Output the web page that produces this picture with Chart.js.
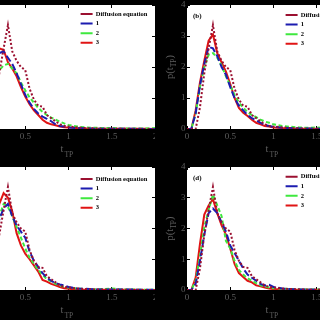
<!DOCTYPE html>
<html><head><meta charset="utf-8">
<script src="https://cdn.jsdelivr.net/npm/chart.js@4"></script>
<style>
html,body{margin:0;padding:0;background:#000;width:320px;height:320px;overflow:hidden;position:relative}
canvas{position:absolute}
</style></head><body>
<canvas id="pa" width="200" height="160" style="left:-45px;top:0px"></canvas>
<canvas id="pb" width="200" height="160" style="left:160px;top:0px"></canvas>
<canvas id="pc" width="200" height="160" style="left:-45px;top:160px"></canvas>
<canvas id="pd" width="200" height="160" style="left:160px;top:160px"></canvas>
<script>
// ---- data ----
const tValues = [0,0.05,0.1,0.15,0.2,0.25,0.3,0.35,0.4,0.45,0.5,0.55,0.6,0.65,0.7,0.75,0.8,0.85,0.9,0.95,1.0,1.1,1.2,1.3,1.4,1.5,1.6,1.7,1.8,1.9,2.0];
const seriesNames = ['Diffusion equation','1','2','3'];
const diffusion = [0,0,0,0.7,1.8,2.6,3.35,2.5,2.2,2.0,1.9,1.3,0.95,0.75,0.72,0.45,0.35,0.25,0.15,0.1,0.08,0.05,0.03,0.02,0.01,0.01,0.01,0,0,0,0];
const a1 = [0,0.05,0.5,1.4,2.45,2.5,2.3,2.1,1.8,1.45,1.1,0.85,0.65,0.5,0.4,0.33,0.25,0.15,0.1,0.08,0.05,0.03,0.02,0.01,0.01,0.01,0.01,0.01,0.01,0,0];
const a2 = [0,0.05,0.4,1.2,1.9,2.05,2.1,1.95,1.8,1.5,1.25,1.02,0.85,0.68,0.55,0.45,0.37,0.3,0.24,0.18,0.13,0.08,0.05,0.04,0.03,0.03,0.02,0.02,0.02,0.02,0.03];
const a3 = [0,0.05,0.6,1.6,2.6,2.55,2.15,1.95,1.7,1.35,1.05,0.8,0.6,0.45,0.3,0.2,0.15,0.12,0.08,0.06,0.05,0.03,0.02,0.01,0.01,0.01,0.01,0.01,0.01,0.01,0];
const b1 = [0,0,0.5,1.4,2.1,2.65,2.6,2.35,2.0,1.75,1.35,1.0,0.75,0.6,0.45,0.35,0.28,0.2,0.13,0.1,0.07,0.04,0.03,0.02,0.02,0.01,0.01,0.01,0.01,0.01,0.01];
const b2 = [0,0,0.5,1.35,2.0,2.4,2.45,2.3,2.05,1.7,1.4,1.1,0.85,0.68,0.55,0.45,0.38,0.3,0.24,0.2,0.15,0.1,0.07,0.05,0.04,0.05,0.03,0.03,0.02,0.02,0.02];
const b3 = [0,0,0.6,1.5,2.2,2.85,3.05,2.45,2.15,1.85,1.45,1.0,0.68,0.52,0.42,0.3,0.2,0.15,0.1,0.08,0.05,0.03,0.02,0.01,0.01,0.01,0.01,0.01,0,0,0];
const c1 = [0,0,0.5,1.5,2.3,2.65,2.8,2.4,2.1,1.9,1.7,1.25,0.95,0.75,0.55,0.4,0.3,0.22,0.18,0.15,0.1,0.05,0.04,0.02,0.02,0.02,0.02,0.02,0.01,0.01,0.01];
const c2 = [0,0,0.5,1.5,2.4,2.8,2.7,2.4,2.05,1.7,1.35,1.05,0.85,0.65,0.5,0.35,0.28,0.2,0.15,0.1,0.08,0.05,0.03,0.02,0.03,0.05,0.02,0.02,0.01,0.01,0.01];
const c3 = [0,0,0.7,1.8,2.8,3.15,3.0,2.55,1.85,1.45,1.18,1.0,0.8,0.6,0.33,0.27,0.2,0.15,0.1,0.06,0.04,0.02,0.01,0.01,0.01,0.01,0.01,0.01,0.01,0,0];
const d1 = [0,0,0.2,0.95,1.8,2.5,2.65,2.5,2.2,1.9,1.45,1.2,0.95,0.7,0.5,0.4,0.3,0.2,0.15,0.17,0.1,0.05,0.03,0.02,0.02,0.01,0.01,0.01,0.01,0.01,0.01];
const d2 = [0,0,0.3,1.1,2.05,2.6,3.1,2.75,2.4,1.6,1.35,0.95,0.65,0.5,0.38,0.3,0.22,0.15,0.12,0.08,0.06,0.04,0.03,0.02,0.02,0.02,0.01,0.01,0.01,0.01,0.01];
const d3 = [0,0,0.4,1.5,2.45,2.75,2.95,2.5,2.1,1.8,1.35,0.85,0.55,0.42,0.3,0.25,0.15,0.12,0.08,0.05,0.03,0.02,0.01,0.01,0.01,0.01,0.01,0,0,0,0];
const xTickValues = [0,0.5,1,1.5,2];
const yTickValues = [0,1,2,3,4];
const panelLabels = ['(a)','(b)','(c)','(d)'];

// ---- styles ----
const colors = ['#9b1030','#1c1cb0','#3ee83e','#e01414'];
const dashes = [[2,2],[7,3],[4,2.5],[]];
const SERIF = '"Liberation Serif", "Times New Roman", serif';
const LABEL_GRAY = '#5e5e5e';

const bgPlugin = {
  id: 'plotBg',
  beforeDraw(chart) {
    const a = chart.chartArea, ctx = chart.ctx;
    ctx.save(); ctx.fillStyle = '#fff';
    ctx.fillRect(a.left, a.top, a.right - a.left, a.bottom - a.top);
    ctx.restore();
  }
};
const legendMove = {
  id: 'legendMove',
  afterLayout(chart, args, opts) {
    const lg = chart.legend; if (!lg) return;
    const a = chart.chartArea;
    const w = lg.width;
    lg.left = a.left + opts.dx; lg.top = a.top + opts.dy;
    lg.right = lg.left + w; lg.bottom = a.bottom;
  }
};
const textPlugin = {
  id: 'panelText',
  afterDraw(chart, args, opts) {
    const ctx = chart.ctx, a = chart.chartArea;
    ctx.save();
    ctx.fillStyle = LABEL_GRAY;
    ctx.textBaseline = 'alphabetic';
    ctx.textAlign = 'left';
    // x-axis title t_TP
    const cx = (a.left + a.right) / 2;
    ctx.font = '10.5px ' + SERIF;
    ctx.fillText('t', cx - 8, a.bottom + 22.5);
    ctx.font = '7.5px ' + SERIF;
    ctx.fillText('TP', cx - 4, a.bottom + 27.5);
    // y-axis title p(t_TP)
    ctx.save();
    ctx.translate(a.left - 14, (a.top + a.bottom) / 2);
    ctx.rotate(-Math.PI / 2);
    ctx.font = '10.5px ' + SERIF;
    const w1 = ctx.measureText('p(t').width;
    ctx.font = '7.5px ' + SERIF;
    const w2 = ctx.measureText('TP').width;
    ctx.font = '10.5px ' + SERIF;
    const w3 = ctx.measureText(')').width;
    const x0 = -(w1 + w2 + w3) / 2;
    ctx.fillText('p(t', x0, 0);
    ctx.font = '7.5px ' + SERIF;
    ctx.fillText('TP', x0 + w1, 2.5);
    ctx.font = '10.5px ' + SERIF;
    ctx.fillText(')', x0 + w1 + w2, 0);
    ctx.restore();
    // panel label
    ctx.fillStyle = '#000';
    ctx.font = 'bold 7px ' + SERIF;
    ctx.fillText(opts.label, a.left + 6, a.top + 12.5);
    ctx.restore();
  }
};
function fixFit(dim, size) {
  return function(s) {
    s[dim] = size;
    s.paddingLeft = 0; s.paddingRight = 0; s.paddingTop = 0; s.paddingBottom = 0;
  };
}
function setTicks(values) {
  return function(s) { s.ticks = values.map(v => ({value: v})); };
}
const tickGrid = {drawOnChartArea: false, drawTicks: true, tickLength: -3, color: '#000', lineWidth: 1};

function makePanel(id, series, label, padTop, xh, legendDy) {
  const datasets = series.map((vals, i) => ({
    label: seriesNames[i],
    data: tValues.map((t, k) => ({x: t, y: vals[k]})),
    borderColor: colors[i], backgroundColor: colors[i], borderWidth: 2, borderDash: dashes[i],
    pointRadius: 0, tension: 0, fill: false
  }));
  new Chart(document.getElementById(id), {
    type: 'line',
    data: {datasets},
    options: {
      responsive: false, animation: false, events: [],
      layout: {padding: {top: padTop, right: 0, bottom: 0, left: 0}},
      plugins: {
        tooltip: {enabled: false},
        legend: {
          position: 'chartArea', align: 'start',
          labels: {usePointStyle: true, pointStyle: 'line', pointStyleWidth: 12, boxHeight: 6.5, padding: 3.1, color: '#000',
            font: {family: SERIF, size: 6.5, weight: 'bold'}}
        },
        legendMove: {dx: 95.5, dy: legendDy},
        panelText: {label}
      },
      scales: {
        x: {type: 'linear', position: 'bottom', min: 0, max: 2,
          afterBuildTicks: setTicks(xTickValues), afterFit: fixFit('height', xh),
          grid: tickGrid, border: {display: false},
          ticks: {padding: 5.6, color: LABEL_GRAY, maxRotation: 0, autoSkip: false, callback: v => String(v), font: {family: SERIF, size: 9}}},
        x2: {type: 'linear', position: 'top', min: 0, max: 2,
          afterBuildTicks: setTicks(xTickValues), afterFit: fixFit('height', 0),
          grid: tickGrid, border: {display: false}, ticks: {display: false}},
        y: {type: 'linear', position: 'left', min: 0, max: 4,
          afterBuildTicks: setTicks(yTickValues), afterFit: fixFit('width', 27),
          grid: tickGrid, border: {display: false},
          ticks: {padding: 4.5, color: LABEL_GRAY, autoSkip: false, callback: v => String(v), font: {family: SERIF, size: 9}}},
        y2: {type: 'linear', position: 'right', min: 0, max: 4,
          afterBuildTicks: setTicks(yTickValues), afterFit: fixFit('width', 0),
          grid: tickGrid, border: {display: false}, ticks: {display: false}}
      }
    },
    plugins: [bgPlugin, legendMove, textPlugin]
  });
}
makePanel('pa', [diffusion, a1, a2, a3], panelLabels[0], 5, 31, 2.6);
makePanel('pb', [diffusion, b1, b2, b3], panelLabels[1], 5, 31, 3.6);
makePanel('pc', [diffusion, c1, c2, c3], panelLabels[2], 7, 30, 5.6);
makePanel('pd', [diffusion, d1, d2, d3], panelLabels[3], 7, 30, 3.3);
</script>
</body></html>
